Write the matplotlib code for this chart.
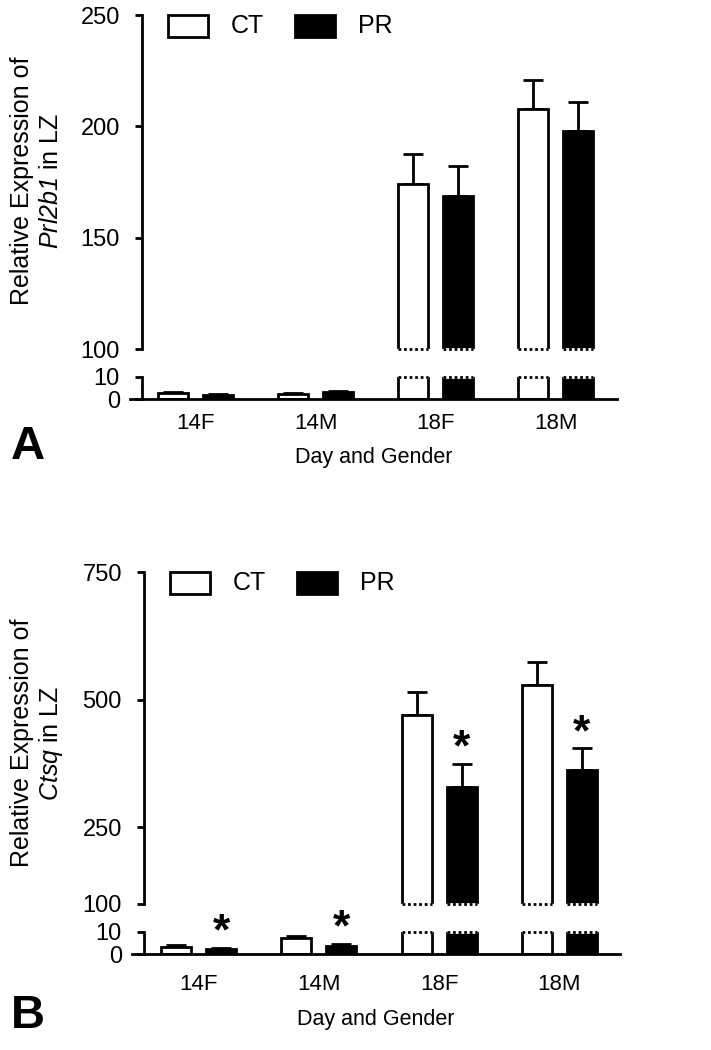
import numpy as np
import matplotlib
matplotlib.use("Agg")
import matplotlib.pyplot as plt
from matplotlib.patches import Rectangle

plt.rcParams['font.family'] = ['Liberation Sans', 'DejaVu Sans']
plt.rcParams['mathtext.fontset'] = 'custom'
plt.rcParams['mathtext.rm'] = 'Liberation Sans:italic'
plt.rcParams['mathtext.it'] = 'Liberation Sans:italic'

# ---- data ----
groups = ['14F', '14M', '18F', '18M']
series = ['CT', 'PR']

prl_ct = [2.8, 2.6, 174.3, 207.7]
prl_ct_err = [0.6, 0.5, 13.4, 13.3]
prl_pr = [2.1, 3.3, 168.9, 197.9]
prl_pr_err = [0.4, 0.4, 13.5, 13.1]

ctsq_ct = [3.4, 7.2, 470.6, 529.4]
ctsq_ct_err = [0.8, 1.0, 44.5, 45.1]
ctsq_pr = [2.2, 3.6, 330.0, 362.0]
ctsq_pr_err = [0.7, 0.9, 44.0, 43.0]
ctsq_signif = [True, True, True, True]   # PR vs CT

prl_upper_ticks = [100, 150, 200, 250]
ctsq_upper_ticks = [100, 250, 500, 750]
lower_ticks = [0, 10]

W, H = 711, 1050
fig = plt.figure(figsize=(W / 100, H / 100), dpi=100)


def px_axes(left, right, top, bottom):
    return fig.add_axes([left / W, 1 - bottom / H, (right - left) / W, (bottom - top) / H])


def fx(x):
    return x / W


def fy(y):
    return 1 - y / H


LW = 2.0
BW = 0.25
OFF = 0.1875


def draw_panel(box, text_y, ct, ct_err, pr, pr_err, upper_ticks, ylabel, letter, stars=None):
    left, right, spine_x, g0, gstep, up_top, up_bot, lo_top, lo_bot, tick_pad = box
    ylab_y, xlab_y, letter_y = text_y
    xl = (left - g0) / gstep
    xr = (right - g0) / gstep
    spine_frac = (spine_x - left) / (right - left)

    ax_up = px_axes(left, right, up_top, up_bot)
    ax_lo = px_axes(left, right, lo_top, lo_bot)

    x = np.arange(len(groups))
    for ax, ylim in [(ax_up, (upper_ticks[0], upper_ticks[-1])), (ax_lo, (lower_ticks[0], lower_ticks[-1]))]:
        ax.bar(x - OFF, ct, BW, color='white', edgecolor='black', linewidth=LW, zorder=2)
        ax.bar(x + OFF, pr, BW, color='black', edgecolor='black', linewidth=LW, zorder=2)
        ax.errorbar(x - OFF, ct, yerr=[np.zeros(len(ct)), ct_err], fmt='none', ecolor='black',
                    elinewidth=LW, capsize=7, capthick=LW, zorder=1)
        ax.errorbar(x + OFF, pr, yerr=[np.zeros(len(pr)), pr_err], fmt='none', ecolor='black',
                    elinewidth=LW, capsize=7, capthick=LW, zorder=1)
        ax.set_xlim(xl, xr)
        ax.set_ylim(*ylim)
        for s in ['top', 'right']:
            ax.spines[s].set_visible(False)
        ax.spines['left'].set_position(('axes', spine_frac))
        ax.spines['left'].set_linewidth(LW)
        ax.tick_params(axis='y', length=5, width=LW, labelsize=17, pad=11)
        ax.patch.set_visible(False)

    ax_up.spines['bottom'].set_visible(False)
    ax_up.set_xticks([])
    ax_up.set_yticks(upper_ticks)
    ax_lo.set_yticks(lower_ticks)
    ax_lo.spines['bottom'].set_linewidth(LW)
    ax_lo.set_xticks(x)
    ax_lo.set_xticklabels(groups)
    ax_lo.tick_params(axis='x', length=0, labelsize=16, pad=tick_pad)

    # dotted edges where tall bars cross the break
    lo_lim = lower_ticks[-1]
    up_lim = upper_ticks[0]
    for xs, vals in [(x - OFF, ct), (x + OFF, pr)]:
        for xi, v in zip(xs, vals):
            if v > lo_lim:
                for ax, yv in [(ax_lo, lo_lim), (ax_up, up_lim)]:
                    ax.plot([xi - BW / 2, xi + BW / 2], [yv, yv], color='white', lw=LW,
                            clip_on=False, zorder=3, solid_capstyle='butt')
                    ax.plot([xi - BW / 2, xi + BW / 2], [yv, yv], color='black', lw=LW,
                            ls=(0, (1, 1)), clip_on=False, zorder=4, dash_capstyle='butt')

    if stars is not None:
        for xi, v, e, s in zip(x + OFF, pr, pr_err, stars):
            if not s:
                continue
            ax = ax_up if v > lo_lim else ax_lo
            ax.annotate('*', xy=(xi, v + e), xytext=(0, -4), textcoords='offset points',
                        ha='center', va='bottom', fontsize=32, fontweight='bold',
                        annotation_clip=False)

    # y label (two lines, gene name italic)
    fig.text(fx(22), fy(ylab_y), 'Relative Expression of', rotation=90, fontsize=18,
             ha='center', va='center')
    fig.text(fx(51), fy(ylab_y), ylabel, rotation=90, fontsize=18, ha='center', va='center')

    # x label and panel letter
    fig.text(fx((left + right) / 2), fy(xlab_y), 'Day and Gender', fontsize=15.5,
             ha='center', va='center')
    fig.text(fx(28), fy(letter_y), letter, fontsize=34, fontweight='bold',
             ha='center', va='center')

    # legend
    ly = up_top + 11
    lx0 = left + 38
    fig.add_artist(Rectangle((fx(lx0), fy(ly + 11)), 40 / W, 22 / H,
                             transform=fig.transFigure, facecolor='white',
                             edgecolor='black', linewidth=LW))
    fig.text(fx(lx0 + 63), fy(ly), series[0], fontsize=18, ha='left', va='center')
    fig.add_artist(Rectangle((fx(lx0 + 127), fy(ly + 11)), 40 / W, 22 / H,
                             transform=fig.transFigure, facecolor='black',
                             edgecolor='black', linewidth=LW))
    fig.text(fx(lx0 + 190), fy(ly), series[1], fontsize=18, ha='left', va='center')


# pixel layout: left, right, spine_x, first group centre, group step,
#               upper top, upper bottom, lower top, lower bottom, x tick pad
box_a = (130, 617, 142, 195.5, 120.0, 15, 349, 377, 399.5, 10)
box_b = (132, 620, 144, 198.5, 120.3, 572.3, 904, 932, 954.3, 14)
# y label centre, x label centre, panel letter centre (pixels from top)
text_a = (181, 458, 447)
text_b = (743, 1020, 1016)

draw_panel(box_a, text_a, prl_ct, prl_ct_err, prl_pr, prl_pr_err, prl_upper_ticks,
           r'$Prl2b1$ in LZ', 'A')
draw_panel(box_b, text_b, ctsq_ct, ctsq_ct_err, ctsq_pr, ctsq_pr_err, ctsq_upper_ticks,
           r'$Ctsq$ in LZ', 'B', stars=ctsq_signif)

fig.savefig('out.png', dpi=100)
